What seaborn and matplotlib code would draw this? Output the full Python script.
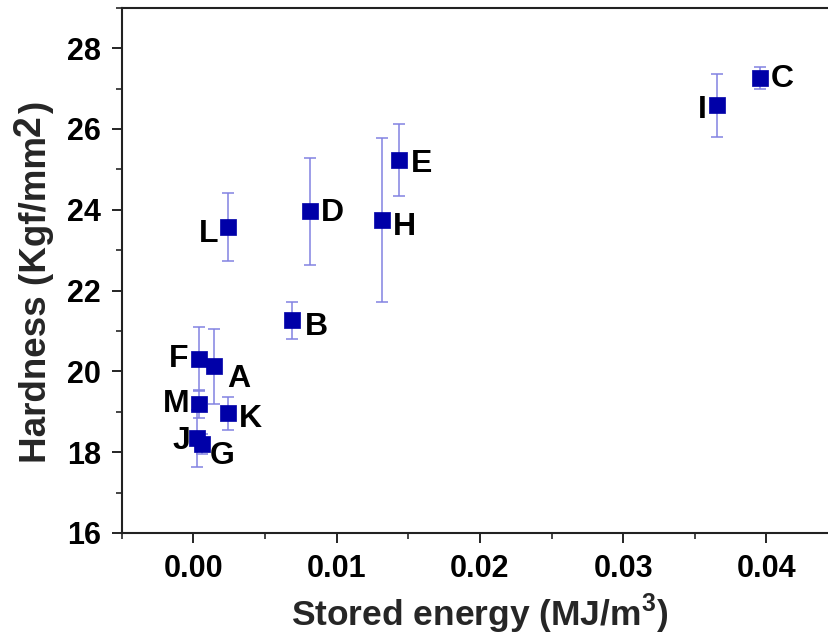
import matplotlib
matplotlib.use("Agg")
import matplotlib.pyplot as plt
import seaborn as sns
import pandas as pd
from matplotlib.ticker import MultipleLocator

labels = ["A", "B", "C", "D", "E", "F", "G", "H", "I", "J", "K", "L", "M"]
energy = [0.00146, 0.00687, 0.03955, 0.00815, 0.01438, 0.00039, 0.00062,
          0.01314, 0.03652, 0.00027, 0.00242, 0.00244, 0.00039]
hardness = [20.13, 21.26, 27.27, 23.96, 25.23, 20.31, 18.21,
            23.75, 26.58, 18.34, 18.96, 23.58, 19.19]
hard_err = [0.93, 0.46, 0.27, 1.33, 0.89, 0.80, 0.25,
            2.03, 0.77, 0.70, 0.40, 0.84, 0.35]

# label offsets in points (dx, dy) and alignment
label_pos = {
    "A": (9, -9, "left"), "B": (9, -5, "left"), "C": (8, -1, "left"),
    "D": (8, -1, "left"), "E": (8, -3, "left"), "F": (-8, 0, "right"),
    "G": (5, -9, "left"), "H": (8, -5, "left"), "I": (-7, -3, "right"),
    "J": (-5, -2, "right"), "K": (8, -4, "left"), "L": (-7, -5, "right"),
    "M": (-7, 0, "right"),
}

df = pd.DataFrame({"label": labels, "energy": energy,
                   "hardness": hardness, "err": hard_err})

sns.set_theme(style="ticks")
plt.rcParams["font.family"] = ["Liberation Sans", "DejaVu Sans"]
plt.rcParams["font.weight"] = "bold"
plt.rcParams["mathtext.fontset"] = "custom"
plt.rcParams["mathtext.bf"] = "Liberation Sans:bold"
plt.rcParams["mathtext.rm"] = "Liberation Sans:bold"

W, H = 829, 641
fig = plt.figure(figsize=(W / 100, H / 100), dpi=100)
ax = fig.add_axes([0.147, 0.1685, 0.864, 0.8195])

ax.errorbar(df["energy"], df["hardness"], yerr=df["err"], fmt="none",
            ecolor="#8282e2", elinewidth=1.1, capsize=4.5, capthick=1.1,
            zorder=2)
sns.scatterplot(data=df, x="energy", y="hardness", marker="s", s=140,
                color="#0000a8", edgecolor="#0000a8", linewidth=0.5,
                ax=ax, zorder=3)

for lab, x, y in zip(labels, energy, hardness):
    dx, dy, ha = label_pos[lab]
    ax.annotate(lab, (x, y), xytext=(dx, dy), textcoords="offset points",
                ha=ha, va="center", fontsize=23, fontweight="bold",
                color="black")

ax.set_xlim(-0.005, 0.045)
ax.set_ylim(16, 29)
ax.xaxis.set_major_locator(MultipleLocator(0.01))
ax.xaxis.set_minor_locator(MultipleLocator(0.005))
ax.yaxis.set_major_locator(MultipleLocator(2))
ax.yaxis.set_minor_locator(MultipleLocator(1))
ax.xaxis.set_major_formatter(matplotlib.ticker.FormatStrFormatter("%.2f"))

ax.tick_params(axis="both", which="major", direction="out", length=7,
               width=1.2, labelsize=22, colors="black", pad=8)
ax.tick_params(axis="both", which="minor", direction="out", length=4,
               width=1.2)
for lbl in ax.get_xticklabels() + ax.get_yticklabels():
    lbl.set_fontweight("bold")

for s in ax.spines.values():
    s.set_linewidth(1.5)
    s.set_color("#222222")

ax.set_xlabel("Stored energy (MJ/m$^\\mathbf{3}$)", fontsize=25.5,
              fontweight="bold", labelpad=6)
ax.set_ylabel("")

# y label built from pieces (large raised "2" as in the original)
base_x = 46.0          # baseline position in pixels
start_y = H - 463.0    # where "H" begins (pixels from bottom)
t1 = fig.text(base_x / W, start_y / H, "Hardness (Kgf/mm", rotation=90,
              rotation_mode="anchor", ha="left", va="baseline",
              fontsize=26.5, fontweight="bold")
fig.canvas.draw()
r = fig.canvas.get_renderer()
y1 = t1.get_window_extent(r).y1
t2 = fig.text((base_x - 6) / W, (y1 + 0.5) / H, "2", rotation=90,
              rotation_mode="anchor", ha="left", va="baseline",
              fontsize=27, fontweight="bold")
fig.canvas.draw()
y2 = t2.get_window_extent(r).y1
fig.text(base_x / W, (y2 + 0.5) / H, ")", rotation=90,
         rotation_mode="anchor", ha="left", va="baseline",
         fontsize=26.5, fontweight="bold")

fig.savefig("out.png", dpi=100)
